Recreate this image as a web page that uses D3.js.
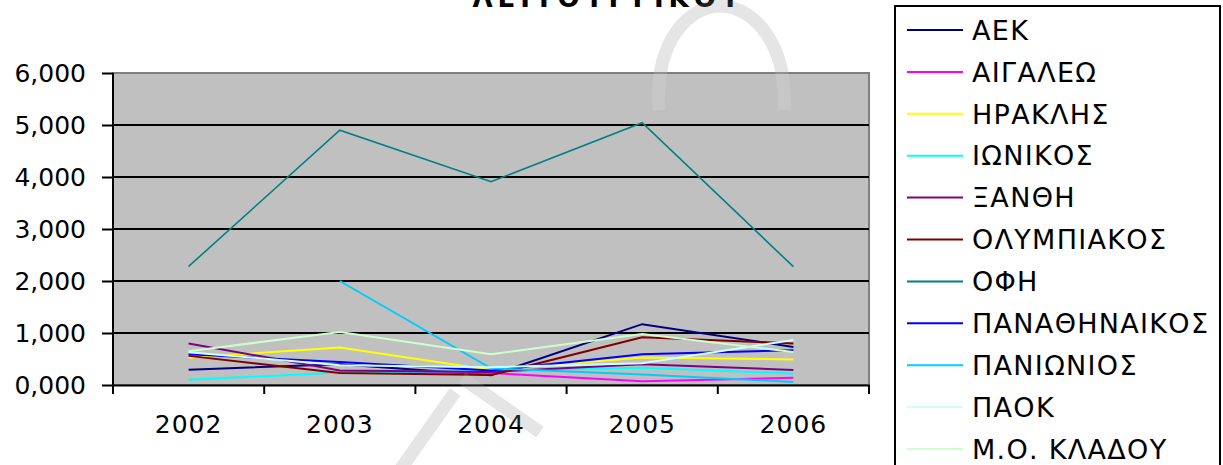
<!DOCTYPE html>
<html>
<head>
<meta charset="utf-8">
<script src="https://cdn.jsdelivr.net/npm/d3@7"></script>
<style>
  body { margin: 0; background: #fff; }
  text { font-family: "DejaVu Sans", sans-serif; fill: #000; }
</style>
</head>
<body>
<div id="chart"></div>
<script>
// Categories and tick labels
var years = ["2002", "2003", "2004", "2005", "2006"];
var yTickValues = [0, 1000, 2000, 3000, 4000, 5000, 6000];
var yTickLabels = ["0,000", "1,000", "2,000", "3,000", "4,000", "5,000", "6,000"];

// Series (null = no value)
var aek           = [295, 400, 190, 1170, 730];
var aigaleo       = [null, 260, 230, 70, 140];
var iraklis       = [525, 720, 290, 530, 490];
var ionikos       = [100, 240, 270, 330, 220];
var xanthi        = [800, 280, 250, 400, 290];
var olympiakos    = [560, 230, 190, 920, 800];
var ofi           = [2280, 4900, 3910, 5045, 2275];
var panathinaikos = [590, 440, 280, 590, 670];
var panionios     = [null, 2000, 320, 200, 60];
var paok          = [630, 380, 340, 420, 865];
var avgSector     = [650, 1020, 590, 980, 635];

var seriesNames = ["ΑΕΚ", "ΑΙΓΑΛΕΩ", "ΗΡΑΚΛΗΣ", "ΙΩΝΙΚΟΣ", "ΞΑΝΘΗ", "ΟΛΥΜΠΙΑΚΟΣ",
                   "ΟΦΗ", "ΠΑΝΑΘΗΝΑΙΚΟΣ", "ΠΑΝΙΩΝΙΟΣ", "ΠΑΟΚ", "Μ.Ο. ΚΛΑΔΟΥ"];
var seriesValues = [aek, aigaleo, iraklis, ionikos, xanthi, olympiakos,
                    ofi, panathinaikos, panionios, paok, avgSector];
var seriesColors = ["#000080", "#ff00ff", "#ffff00", "#00ffff", "#800080", "#800000",
                    "#008080", "#0000ff", "#00ccff", "#ccffff", "#ccffcc"];

var titleText = "ΛΕΙΤΟΥΡΓΙΚΟΥ";

// Canvas / plot geometry
var Canvas = { width: 1223, height: 465 };
var Plot = { left: 113, right: 869, top: 73, bottom: 385 };

var svg = d3.select("#chart").append("svg")
    .attr("width", Canvas.width)
    .attr("height", Canvas.height);

// Watermark (behind the plot, only shows on white)
var markPaths = ["M659,110 C654,40 690,6 720,6 C754,6 788,45 784,110",
                 "M455,392 L400,470",
                 "M462,378 L540,432"];
svg.append("g")
   .selectAll("path")
   .data(markPaths)
   .join("path")
   .attr("d", function(d) { return d; })
   .attr("fill", "none")
   .attr("stroke", "#e2e2e2")
   .attr("stroke-width", 13);

// Title (cut off at top of the picture)
svg.append("text")
    .attr("x", 606)
    .attr("y", 7)
    .attr("text-anchor", "middle")
    .attr("textLength", 267)
    .attr("lengthAdjust", "spacing")
    .style("font-weight", "bold")
    .style("font-size", "26px")
    .text(titleText);

var x = d3.scaleBand().domain(years).range([Plot.left, Plot.right]);
var y = d3.scaleLinear().domain([0, 6000]).range([Plot.bottom, Plot.top]);

// Plot area
svg.append("rect")
    .attr("x", Plot.left)
    .attr("y", Plot.top)
    .attr("width", Plot.right - Plot.left)
    .attr("height", Plot.bottom - Plot.top)
    .attr("fill", "#c0c0c0")
    .attr("stroke", "#808080")
    .attr("stroke-width", 2);

// Gridlines
svg.append("g")
   .selectAll("line")
   .data(yTickValues.slice(1, -1))
   .join("line")
   .attr("x1", Plot.left)
   .attr("x2", Plot.right)
   .attr("y1", function(d) { return y(d); })
   .attr("y2", function(d) { return y(d); })
   .attr("stroke", "#000")
   .attr("stroke-width", 2);

// Y axis
var yAxis = svg.append("g")
    .attr("transform", "translate(" + Plot.left + ",0)")
    .call(d3.axisLeft(y)
        .tickValues(yTickValues)
        .tickSize(11)
        .tickPadding(16)
        .tickFormat(function(d, i) { return yTickLabels[i]; }));
yAxis.select(".domain").attr("stroke", "#000").attr("stroke-width", 2)
     .attr("d", "M0," + (Plot.top) + "V" + (Plot.bottom + 2));
yAxis.selectAll(".tick line").attr("stroke", "#000").attr("stroke-width", 2);
yAxis.selectAll(".tick text")
     .style("font-size", "25px")
     .style("font-family", "DejaVu Sans, sans-serif")
     .attr("fill", "#111");

// X axis: labels at category centers, ticks between categories
var xAxis = svg.append("g")
    .attr("transform", "translate(0," + Plot.bottom + ")")
    .call(d3.axisBottom(x).tickSize(0).tickPadding(30));
xAxis.select(".domain").attr("stroke", "#000").attr("stroke-width", 2);
xAxis.selectAll(".tick text")
     .style("font-size", "25px")
     .style("font-family", "DejaVu Sans, sans-serif")
     .style("letter-spacing", "1px")
     .attr("fill", "#111");

var boundaries = years.map(function(d) { return x(d); }).concat([Plot.right]);
xAxis.selectAll(".sep")
     .data(boundaries)
     .join("line")
     .attr("class", "sep")
     .attr("x1", function(d) { return d; })
     .attr("x2", function(d) { return d; })
     .attr("y1", 0)
     .attr("y2", 9)
     .attr("stroke", "#000")
     .attr("stroke-width", 2);

// Lines
var lineGen = d3.line()
    .defined(function(d) { return d != null; })
    .x(function(d, i) { return x(years[i]) + x.bandwidth() / 2; })
    .y(function(d) { return y(d); });

svg.append("g")
   .selectAll("path")
   .data(seriesValues)
   .join("path")
   .attr("fill", "none")
   .attr("stroke", function(d, i) { return seriesColors[i]; })
   .attr("stroke-width", function(d, i) { return i === 6 ? 1.6 : 2; })
   .attr("d", lineGen);

// Faint watermark trace over the plot
svg.append("g")
   .selectAll("path")
   .data(markPaths)
   .join("path")
   .attr("d", function(d) { return d; })
   .attr("fill", "none")
   .attr("stroke", "#fff")
   .attr("stroke-opacity", 0.12)
   .attr("stroke-width", 13);

// Legend
var legend = svg.append("g");
legend.append("rect")
      .attr("x", 895)
      .attr("y", 6)
      .attr("width", 325)
      .attr("height", 480)
      .attr("fill", "#fff")
      .attr("stroke", "#000")
      .attr("stroke-width", 2);

var items = legend.selectAll(".item")
    .data(seriesNames)
    .join("g")
    .attr("class", "item")
    .attr("transform", function(d, i) { return "translate(0," + (30 + i * 41.9) + ")"; });

items.append("line")
     .attr("x1", 907)
     .attr("x2", 963)
     .attr("stroke", function(d, i) { return seriesColors[i]; })
     .attr("stroke-width", 2);

items.append("text")
     .attr("x", 972)
     .attr("dy", "0.36em")
     .style("font-size", "27px")
     .style("letter-spacing", "1.3px")
     .attr("fill", "#111")
     .text(function(d) { return d; });
</script>
</body>
</html>
